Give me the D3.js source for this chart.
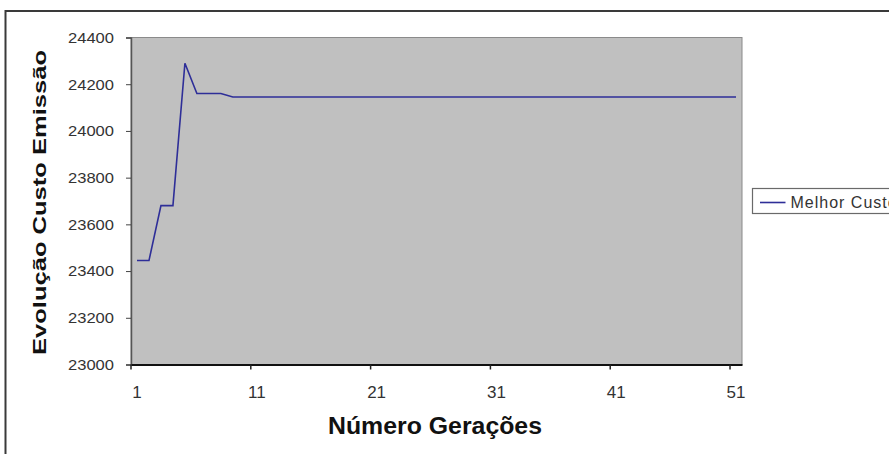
<!DOCTYPE html>
<html>
<head>
<meta charset="utf-8">
<script src="https://cdn.jsdelivr.net/npm/d3@7"></script>
<style>
  body { margin: 0; background: #fff; }
  svg { display: block; font-family: "Liberation Sans", Arial, sans-serif; }
</style>
</head>
<body>
<svg id="chart" width="889" height="454"></svg>
<script>
// generations 1..51 and best emission cost per generation
const generations = d3.range(1, 52);
const bestCost = [
  23445, 23445, 23680, 23680, 24290, 24160, 24160, 24160, 24145, 24145,
  24145, 24145, 24145, 24145, 24145, 24145, 24145, 24145, 24145, 24145,
  24145, 24145, 24145, 24145, 24145, 24145, 24145, 24145, 24145, 24145,
  24145, 24145, 24145, 24145, 24145, 24145, 24145, 24145, 24145, 24145,
  24145, 24145, 24145, 24145, 24145, 24145, 24145, 24145, 24145, 24145,
  24145
];
const xTicks = [1, 11, 21, 31, 41, 51];
const yTicks = [23000, 23200, 23400, 23600, 23800, 24000, 24200, 24400];
const seriesName = 'Melhor Custo';

const svg = d3.select('#chart');

// outer chart frame (runs off the right/bottom edge)
svg.append('rect')
  .attr('x', 5.5).attr('y', 11)
  .attr('width', 900).attr('height', 460)
  .attr('fill', '#fff')
  .attr('stroke', '#3a3a3a')
  .attr('stroke-width', 2);

const plot = { left: 131, top: 37.5, right: 742, bottom: 364.5 };

const x = d3.scaleBand()
  .domain(generations)
  .range([plot.left, plot.right])
  .padding(0);
const y = d3.scaleLinear()
  .domain([23000, 24400])
  .range([plot.bottom, plot.top]);

svg.append('rect')
  .attr('x', plot.left).attr('y', plot.top)
  .attr('width', plot.right - plot.left)
  .attr('height', plot.bottom - plot.top)
  .attr('fill', '#c0c0c0')
  .attr('stroke', '#8a8a8a')
  .attr('stroke-width', 1);

// y axis
const yAxis = svg.append('g')
  .attr('transform', `translate(${plot.left},0)`)
  .call(d3.axisLeft(y).tickValues(yTicks).tickSize(5).tickPadding(12).tickFormat(d3.format('d')));
yAxis.select('.domain').attr('stroke', '#555').attr('stroke-width', 1.5);
yAxis.selectAll('.tick line').attr('stroke', '#444');
yAxis.selectAll('.tick text')
  .attr('font-size', 15)
  .attr('fill', '#333')
  .attr('textLength', 46)
  .attr('lengthAdjust', 'spacingAndGlyphs');

// x axis: ticks on category boundaries, labels on category centres
const bw = x.bandwidth();
const xAxis = svg.append('g')
  .attr('transform', `translate(0,${plot.bottom})`)
  .call(d3.axisBottom(x).tickValues(xTicks).tickSize(5).tickSizeOuter(0));
xAxis.select('.domain').attr('stroke', '#111').attr('stroke-width', 2);
xAxis.selectAll('.tick line')
  .attr('x1', -bw / 2).attr('x2', -bw / 2)
  .attr('stroke', '#222').attr('stroke-width', 1.5);
xAxis.selectAll('.tick text')
  .attr('y', 33.5).attr('dy', 0)
  .attr('font-size', 17)
  .attr('fill', '#333');

// series line
const line = d3.line()
  .x((d, i) => x(generations[i]) + bw / 2)
  .y(d => y(d));
svg.append('path')
  .datum(bestCost)
  .attr('d', line)
  .attr('fill', 'none')
  .attr('stroke', '#2e2e98')
  .attr('stroke-width', 1.6);

// axis titles
svg.append('text')
  .attr('transform', 'translate(46,202.5) rotate(-90)')
  .attr('text-anchor', 'middle')
  .attr('font-size', 18)
  .attr('font-weight', 'bold')
  .attr('fill', '#111')
  .attr('textLength', 305)
  .attr('lengthAdjust', 'spacingAndGlyphs')
  .text('Evolução Custo Emissão');

svg.append('text')
  .attr('x', 435).attr('y', 433.5)
  .attr('text-anchor', 'middle')
  .attr('font-size', 23)
  .attr('font-weight', 'bold')
  .attr('fill', '#111')
  .attr('textLength', 214)
  .attr('lengthAdjust', 'spacingAndGlyphs')
  .text('Número Gerações');

// legend (cut off by the right edge)
const legend = svg.append('g').attr('transform', 'translate(752.5,188.5)');
legend.append('rect')
  .attr('width', 160).attr('height', 25)
  .attr('fill', '#fff')
  .attr('stroke', '#6a6a6a')
  .attr('stroke-width', 1.2);
legend.append('line')
  .attr('x1', 7.5).attr('x2', 33)
  .attr('y1', 14).attr('y2', 14)
  .attr('stroke', '#2e2e98')
  .attr('stroke-width', 1.6);
legend.append('text')
  .attr('x', 38).attr('y', 19)
  .attr('font-size', 16)
  .attr('letter-spacing', 1)
  .attr('fill', '#333')
  .text(seriesName);
</script>
</body>
</html>
